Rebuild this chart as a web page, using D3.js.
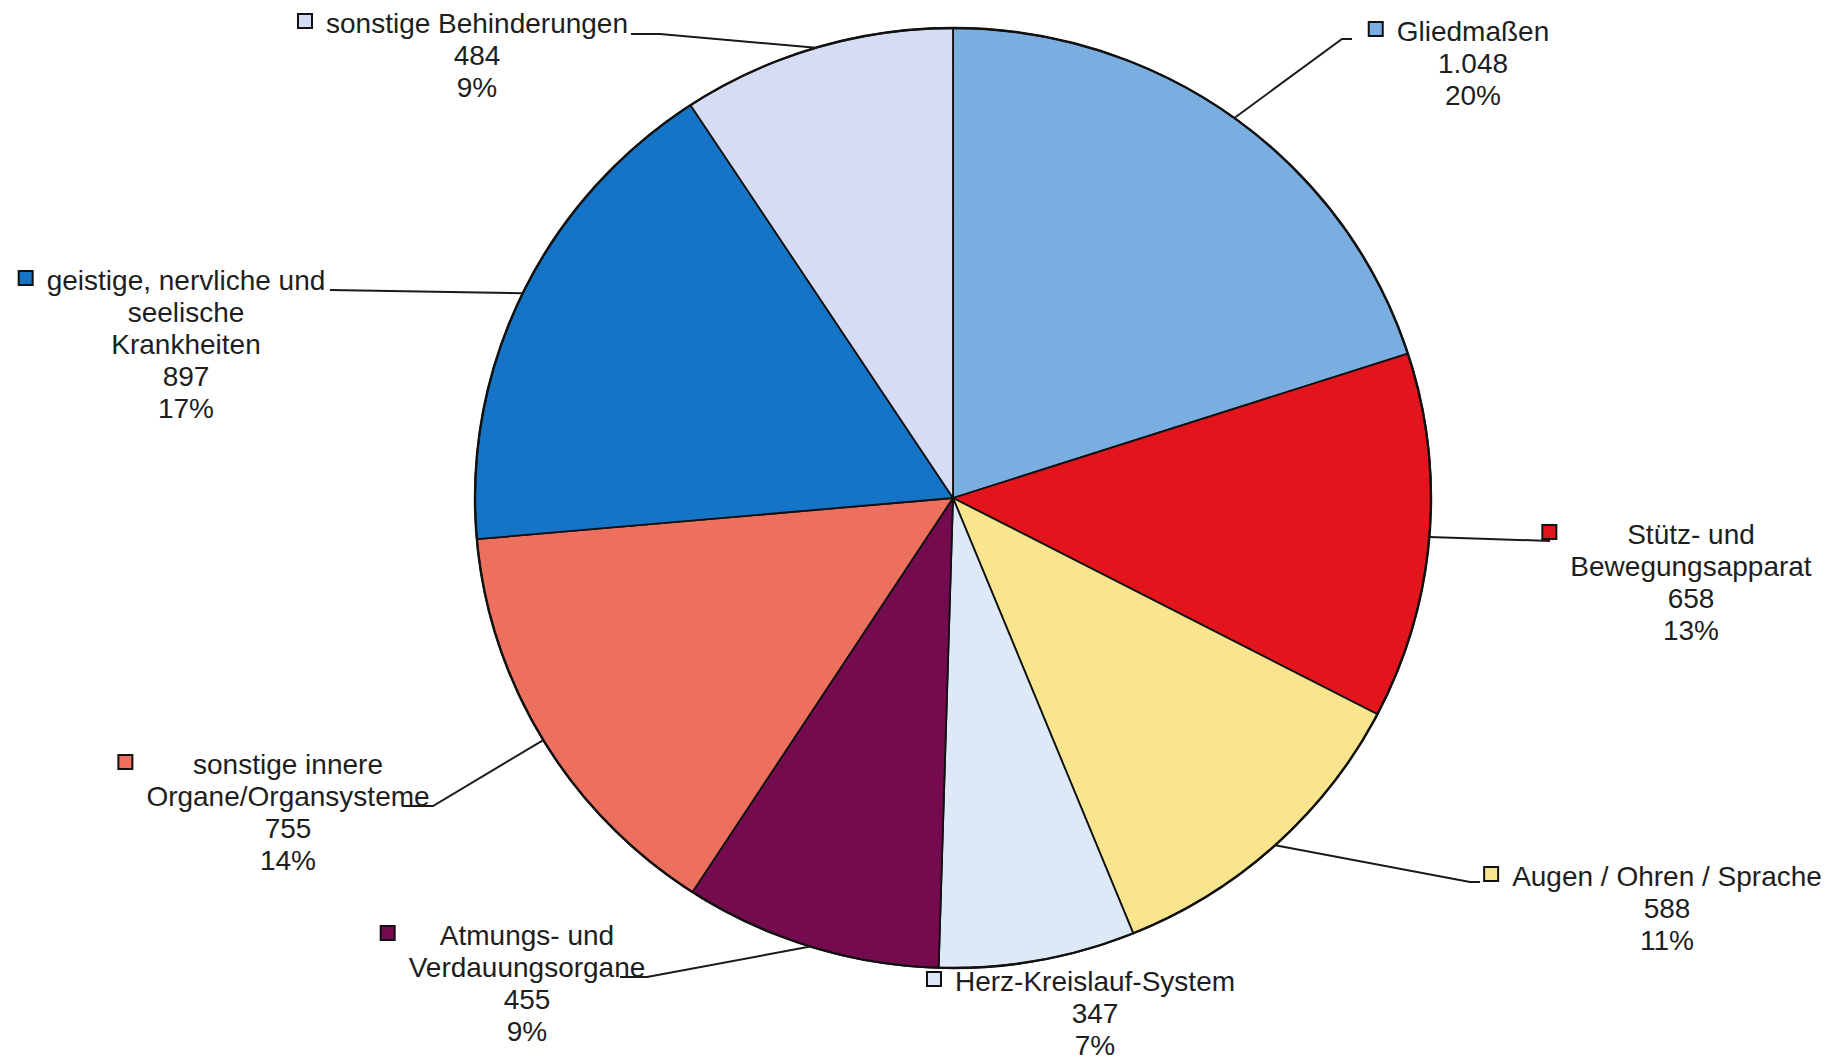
<!DOCTYPE html>
<html>
<head>
<meta charset="utf-8">
<script src="https://cdn.jsdelivr.net/npm/d3@7"></script>
<style>
  html, body { margin: 0; padding: 0; background: #fff; }
  svg { display: block; }
  text { font-family: "Liberation Sans", Arial, Helvetica, sans-serif; font-size: 28px; fill: #1e1e1e; }
</style>
</head>
<body>
<svg id="chart" width="1844" height="1063"></svg>
<script>
// ---- data ----
const categories = [
  "Gliedmaßen",
  "Stütz- und Bewegungsapparat",
  "Augen / Ohren / Sprache",
  "Herz-Kreislauf-System",
  "Atmungs- und Verdauungsorgane",
  "sonstige innere Organe/Organsysteme",
  "geistige, nervliche und seelische Krankheiten",
  "sonstige Behinderungen"
];
const values = [1048, 658, 588, 347, 455, 755, 897, 484];
const labelLines = [
  ["Gliedmaßen"],
  ["Stütz- und", "Bewegungsapparat"],
  ["Augen / Ohren / Sprache"],
  ["Herz-Kreislauf-System"],
  ["Atmungs- und", "Verdauungsorgane"],
  ["sonstige innere", "Organe/Organsysteme"],
  ["geistige, nervliche und", "seelische", "Krankheiten"],
  ["sonstige Behinderungen"]
];

// ---- styles / layout ----
const colors = ["#7aade0", "#e2151c", "#f8e58e", "#dde9f6", "#740b4f", "#ed705e", "#1674c7", "#d5dcf3"];
const layout = [
  { cx: 1473, y: 41,  leader: [[1342, 39], [1352, 39]] },
  { cx: 1691, y: 544, leader: [[1550, 541]] },
  { cx: 1667, y: 886, leader: [[1470, 882], [1480, 882]] },
  { cx: 1095, y: 991, leader: null },
  { cx: 527,  y: 945, leader: [[647, 977], [620, 977]] },
  { cx: 288,  y: 774, leader: [[433, 806], [402, 806]] },
  { cx: 186,  y: 290, leader: [[330, 290]] },
  { cx: 477,  y: 33,  leader: [[660, 34], [631, 34]] }
];
const CX = 953, CY = 498, RX = 478, RY = 470;
const lineH = 32;

const svg = d3.select("#chart");
const total = d3.sum(values);
const de = d3.formatLocale({ decimal: ",", thousands: ".", grouping: [3], currency: ["", "€"] });
const fmt = de.format(",d");

const data = categories.map((c, i) => ({ name: c, value: values[i], color: colors[i], lines: labelLines[i], lay: layout[i] }));

const pie = d3.pie().value(d => d.value).sort(null);
const arcs = pie(data);
const arc = d3.arc().innerRadius(0).outerRadius(RY);

const g = svg.append("g").attr("transform", `translate(${CX},${CY}) scale(${RX / RY},1)`);
g.selectAll("path.slice")
  .data(arcs)
  .join("path")
  .attr("class", "slice")
  .attr("d", arc)
  .attr("fill", d => d.data.color)
  .attr("stroke", "#111")
  .attr("stroke-width", 1.8)
  .attr("stroke-linejoin", "round")
  .attr("vector-effect", "non-scaling-stroke");

// outer outline
g.append("ellipse")
  .attr("cx", 0).attr("cy", 0).attr("rx", RY).attr("ry", RY)
  .attr("fill", "none").attr("stroke", "#111").attr("stroke-width", 2.4)
  .attr("vector-effect", "non-scaling-stroke");

// leader lines
const line = d3.line();
arcs.forEach(a => {
  const lay = a.data.lay;
  if (!lay.leader) return;
  const m = (a.startAngle + a.endAngle) / 2;
  const p0 = [CX + RX * Math.sin(m), CY - RY * Math.cos(m)];
  svg.append("path")
    .attr("d", line([p0, ...lay.leader]))
    .attr("fill", "none")
    .attr("stroke", "#1a1a1a")
    .attr("stroke-width", 2);
});

// labels
arcs.forEach(a => {
  const d = a.data, lay = d.lay;
  const lines = [...d.lines, fmt(d.value), Math.round(d.value / total * 100) + "%"];
  const lg = svg.append("g");
  let minLeft = Infinity;
  lines.forEach((t, k) => {
    const tx = lg.append("text")
      .attr("x", lay.cx)
      .attr("y", lay.y + k * lineH)
      .attr("text-anchor", "middle")
      .text(t);
    const w = tx.node().getComputedTextLength();
    minLeft = Math.min(minLeft, lay.cx - w / 2);
  });
  const s = 14;
  lg.append("rect")
    .attr("x", minLeft - 14 - s)
    .attr("y", lay.y - 12 - s / 2)
    .attr("width", s).attr("height", s)
    .attr("fill", d.color)
    .attr("stroke", "#111")
    .attr("stroke-width", 2);
});
</script>
</body>
</html>
